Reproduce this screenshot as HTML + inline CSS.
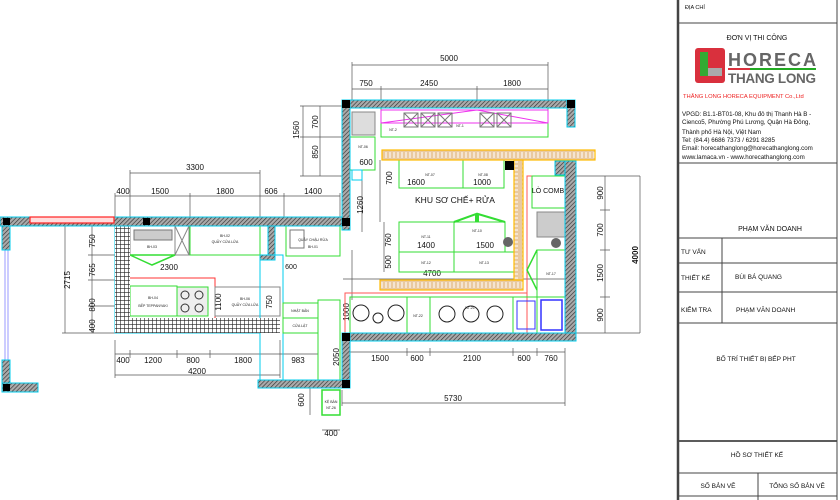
<!DOCTYPE html>
<html><head><meta charset="utf-8"><style>
body{margin:0;background:#fff}
svg{display:block;font-family:"Liberation Sans",sans-serif}
</style></head><body>
<svg width="840" height="500" viewBox="0 0 840 500" xmlns="http://www.w3.org/2000/svg">
<defs>
<pattern id="h" width="3" height="3" patternUnits="userSpaceOnUse" patternTransform="rotate(45)">
<rect width="3" height="3" fill="#aaa"/><line x1="0" y1="0" x2="0" y2="3" stroke="#333" stroke-width="1.3"/></pattern>
<pattern id="g" width="4" height="4" patternUnits="userSpaceOnUse">
<rect width="4" height="4" fill="#fff"/><path d="M0 0H4M0 0V4" stroke="#222" stroke-width="1.2"/></pattern>
<pattern id="sh" width="4" height="10" patternUnits="userSpaceOnUse">
<rect width="4" height="10" fill="#e9c9a0"/><line x1="2" y1="2" x2="2" y2="8" stroke="#fff" stroke-width="1"/></pattern>
<pattern id="shv" width="10" height="4" patternUnits="userSpaceOnUse">
<rect width="10" height="4" fill="#e9c9a0"/><line x1="2" y1="2" x2="8" y2="2" stroke="#fff" stroke-width="1"/></pattern>
</defs>
<g fill="none" stroke="#555" stroke-width="0.7">
<path d="M352 65H548M352 62V100M548 62V100M352 89H548M381 86V100M477 86V100"/>
<path d="M130 173H260M130 170V217M260 170V217M115 196H340M115 193V217M190 193V217M284 193V217M340 193V217"/>
<path d="M300 106H342M300 137H342M300 176H342M303 106V176M320 106V176"/>
<path d="M65 226V333M92 226V333M62 226H115M88 255H115M88 280H115M88 306H115M62 333H115"/>
<path d="M115 354H318M115 340V378M130 350V358M177 350V358M210 350V358M280 340V378M318 350V358M115 375H280"/>
<path d="M350 352H565M407 348V356M430 348V356M513 348V356M537 348V356M565 348V406M342 403H565M342 390V406"/>
<path d="M576 176H640M576 333H640M605 176V333M640 176V333M600 210H610M600 250H610M600 297H610"/>
<path d="M343 279H575M380 160V222M384 222V272M310 388V415M322 415H340M322 430H340"/>
<path d="M352 250V300M362 180V232"/>
</g>
<g font-size="8" fill="#111" text-anchor="middle">
<text x="449" y="61">5000</text><text x="366" y="86">750</text><text x="429" y="86">2450</text><text x="512" y="86">1800</text>
<text x="195" y="170">3300</text><text x="123" y="194">400</text><text x="160" y="194">1500</text><text x="225" y="194">1800</text><text x="271" y="194">606</text><text x="313" y="194">1400</text>
<text x="123" y="363">400</text><text x="153" y="363">1200</text><text x="193" y="363">800</text><text x="243" y="363">1800</text><text x="298" y="363">983</text><text x="197" y="374">4200</text>
<text x="380" y="361">1500</text><text x="417" y="361">600</text><text x="472" y="361">2100</text><text x="524" y="361">600</text><text x="551" y="361">760</text><text x="453" y="401">5730</text>
<text x="416" y="185">1600</text><text x="482" y="185">1000</text><text x="426" y="248">1400</text><text x="485" y="248">1500</text><text x="432" y="276">4700</text>
<text x="169" y="270">2300</text><text x="366" y="165">600</text><text x="291" y="269" font-size="7">600</text><text x="331" y="436">400</text>
<text x="455" y="203" font-size="8.5">KHU SƠ CHẾ+ RỬA</text>
<text x="548" y="193" font-size="7">LÒ COMB</text>
</g>
<g font-size="8" fill="#111" text-anchor="middle">
<text transform="translate(299,130) rotate(-90)">1560</text><text transform="translate(318,122) rotate(-90)">700</text><text transform="translate(318,152) rotate(-90)">850</text>
<text transform="translate(363,205) rotate(-90)">1260</text><text transform="translate(392,178) rotate(-90)">700</text><text transform="translate(391,240) rotate(-90)">760</text><text transform="translate(391,262) rotate(-90)">500</text>
<text transform="translate(349,312) rotate(-90)">1000</text><text transform="translate(339,357) rotate(-90)">2050</text><text transform="translate(304,400) rotate(-90)">600</text>
<text transform="translate(70,280) rotate(-90)">2715</text><text transform="translate(95,241) rotate(-90)">750</text><text transform="translate(95,270) rotate(-90)">765</text><text transform="translate(95,305) rotate(-90)">800</text><text transform="translate(95,326) rotate(-90)">400</text>
<text transform="translate(221,302) rotate(-90)">1100</text><text transform="translate(272,302) rotate(-90)">750</text>
<text transform="translate(603,193) rotate(-90)">900</text><text transform="translate(603,230) rotate(-90)">700</text><text transform="translate(603,273) rotate(-90)">1500</text><text transform="translate(603,315) rotate(-90)">900</text>
<text transform="translate(638,255) rotate(-90)" font-weight="bold">4000</text>
</g>
<g fill="none" stroke-width="1">
<rect x="381" y="108" width="167" height="29" stroke="#3d3"/>
<path d="M381 110H548V123H381Z M381 123L477 110L548 123" stroke="#e3e"/>
<rect x="352" y="112" width="23" height="23" stroke="#888" fill="#ddd"/>
<g stroke="#777"><rect x="404" y="113" width="14" height="14"/><rect x="421" y="113" width="14" height="14"/><rect x="438" y="113" width="14" height="14"/><rect x="480" y="113" width="14" height="14"/><rect x="497" y="113" width="14" height="14"/>
<path d="M404 113L418 127M418 113L404 127M421 113L435 127M435 113L421 127M438 113L452 127M452 113L438 127M480 113L494 127M494 113L480 127M497 113L511 127M511 113L497 127"/></g>
<rect x="350" y="137" width="25" height="33" stroke="#3d3"/>
<rect x="352" y="170" width="10" height="10" stroke="#0ce"/>
<rect x="399" y="160" width="64" height="28" stroke="#3d3"/><rect x="463" y="160" width="41" height="28" stroke="#3d3"/>
<rect x="399" y="222" width="55" height="30" stroke="#3d3"/><rect x="454" y="222" width="51" height="30" stroke="#3d3"/>
<rect x="399" y="252" width="55" height="20" stroke="#3d3"/><rect x="454" y="252" width="61" height="20" stroke="#3d3"/>
<path d="M454 222L476 214V222M478 222V214L505 222" stroke="#3d3" stroke-width="2"/>
<path d="M527 333V176H565" stroke="#f55"/>
<rect x="532" y="176" width="33" height="32" stroke="#3d3"/>
<rect x="537" y="212" width="28" height="25" stroke="#888" fill="#ccc"/>
<rect x="537" y="250" width="28" height="47" stroke="#3d3"/><path d="M537 250L527 270L537 290" stroke="#3d3" stroke-width="1.5"/>
<rect x="350" y="297" width="57" height="36" stroke="#3d3"/><rect x="407" y="297" width="23" height="36" stroke="#3d3"/>
<rect x="430" y="297" width="83" height="36" stroke="#3d3"/><rect x="513" y="297" width="24" height="36" stroke="#3d3"/>
<rect x="517" y="301" width="18" height="28" stroke="#33f"/><rect x="541" y="300" width="21" height="30" stroke="#33f" stroke-width="1.5"/>
<path d="M345 333V293H527" stroke="#f55"/>
<g stroke="#222"><circle cx="361" cy="313" r="8"/><circle cx="396" cy="313" r="8"/><circle cx="378" cy="318" r="5"/><circle cx="447" cy="314" r="8"/><circle cx="471" cy="314" r="8"/><circle cx="495" cy="314" r="8"/></g>
<circle cx="508" cy="242" r="5" fill="#666" stroke="none"/><circle cx="556" cy="243" r="5" fill="#666" stroke="none"/>
<rect x="115" y="226" width="145" height="107" stroke="#0ce"/>
<rect x="130" y="226" width="45" height="29" stroke="#888"/><rect x="134" y="230" width="38" height="10" fill="#ccc" stroke="#777"/>
<rect x="175" y="226" width="14" height="29" stroke="#888"/><path d="M175 226L189 255M189 226L175 255" stroke="#888"/>
<rect x="190" y="226" width="70" height="29" stroke="#3d3"/>
<path d="M130 255H175L152 265Z" stroke="#3d3" stroke-width="1.5"/>
<rect x="123" y="278" width="92" height="44" stroke="#f33"/>
<rect x="130" y="286" width="47" height="30" stroke="#3d3"/><rect x="177" y="287" width="31" height="29" stroke="#3d3" fill="#eee"/>
<g stroke="#333"><circle cx="185" cy="295" r="4"/><circle cx="199" cy="295" r="4"/><circle cx="185" cy="308" r="4"/><circle cx="199" cy="308" r="4"/></g>
<rect x="215" y="287" width="65" height="29" stroke="#888"/>
<rect x="260" y="255" width="23" height="125" stroke="#0ce"/>
<rect x="286" y="226" width="54" height="30" stroke="#3d3"/><rect x="290" y="230" width="14" height="18" stroke="#777"/>
<rect x="283" y="303" width="35" height="15" stroke="#3d3"/><rect x="283" y="318" width="35" height="15" stroke="#3d3"/>
<rect x="318" y="300" width="22" height="80" stroke="#3d3"/>
<rect x="322" y="390" width="18" height="25" stroke="#3d3" stroke-width="1.5"/>
<path d="M30 226H114" stroke="#ee4"/><path d="M5 250V360M8 250V360" stroke="#99f"/>
</g>
<rect x="115" y="226" width="15" height="107" fill="url(#g)"/><rect x="115" y="318" width="165" height="15" fill="url(#g)"/>
<g stroke="#fb0" stroke-width="1.2">
<rect x="382" y="150" width="213" height="10" fill="url(#sh)"/>
<rect x="380" y="280" width="143" height="10" fill="url(#sh)"/>
<rect x="514" y="160" width="9" height="120" fill="url(#shv)"/>
</g>
<g fill="url(#h)" stroke="#0ce" stroke-width="1">
<rect x="342" y="100" width="233" height="8"/><rect x="567" y="100" width="8" height="27"/>
<rect x="342" y="100" width="8" height="130"/><rect x="330" y="218" width="12" height="8"/>
<rect x="565" y="161" width="11" height="180"/><rect x="555" y="161" width="10" height="14"/>
<rect x="342" y="333" width="234" height="8"/><rect x="342" y="333" width="8" height="55"/>
<rect x="258" y="380" width="92" height="8"/>
<rect x="0" y="217" width="342" height="9"/><rect x="2" y="226" width="8" height="24"/><rect x="2" y="360" width="8" height="24"/><rect x="2" y="383" width="36" height="9"/>
<rect x="268" y="226" width="7" height="30"/><rect x="260" y="255" width="15" height="5"/>
</g>
<rect x="30" y="217" width="84" height="6" fill="#fdd" stroke="#f22" stroke-width="1.2"/>
<g fill="#000"><rect x="342" y="100" width="8" height="8"/><rect x="567" y="100" width="8" height="8"/><rect x="342" y="218" width="8" height="8"/><rect x="505" y="161" width="9" height="9"/>
<rect x="342" y="333" width="8" height="8"/><rect x="342" y="380" width="8" height="8"/><rect x="3" y="218" width="7" height="7"/><rect x="143" y="218" width="7" height="7"/><rect x="3" y="384" width="7" height="7"/></g>
<g font-size="3.5" fill="#222" text-anchor="middle">
<text x="393" y="131">NT-2</text><text x="460" y="127">NT-1</text><text x="363" y="148">NT-06</text><text x="430" y="176">NT-07</text><text x="483" y="176">NT-08</text>
<text x="426" y="238">NT-11</text><text x="477" y="232">NT-10</text><text x="426" y="264">NT-12</text><text x="484" y="264">NT-13</text><text x="551" y="275">NT-17</text>
<text x="418" y="317">NT-22</text><text x="470" y="309">NT-21</text><text x="152" y="248">BH-03</text><text x="225" y="237">BH-02</text><text x="225" y="243">QUẦY CỬA LỬA</text>
<text x="153" y="299">BH-04</text><text x="153" y="307">BẾP TEPPANYAKI</text><text x="245" y="300">BH-06</text><text x="245" y="306">QUẦY CỬA LỬA</text>
<text x="313" y="241">QUẦY CHẬU RỬA</text><text x="313" y="248">BH-01</text><text x="300" y="312">NHẬT BẢN</text><text x="300" y="327">CỬA LẬT</text><text x="331" y="403">KỆ BÀN</text><text x="331" y="409">NT-26</text>
</g>
<g fill="none" stroke="#444"><path d="M678 0V500" stroke-width="2.5"/><path d="M837 0V500" stroke-width="1"/>
<path d="M678 23H837M678 163H837M678 238H837M678 263H837M678 292H837M678 323H837M678 473H837M678 496H837M722 238V323M758 473V500" stroke-width="1"/>
<path d="M678 441H837" stroke-width="1.8"/></g>
<g font-size="7" fill="#111">
<text x="685" y="9" font-size="5.5">ĐỊA CHỈ</text>
<text x="757" y="40" text-anchor="middle">ĐƠN VỊ THI CÔNG</text>
<rect x="695" y="48" width="30" height="35" rx="3" fill="#d9303d"/><rect x="700" y="52" width="8" height="24" fill="#3a3"/><rect x="708" y="68" width="14" height="8" fill="#aaa"/>
<text x="728" y="66" font-size="18" font-weight="bold" fill="#666" textLength="88">HORECA</text><rect x="728" y="68" width="22" height="2" fill="#d9303d"/><rect x="750" y="68" width="66" height="2" fill="#2a2"/>
<text x="728" y="83" font-size="13.5" font-weight="bold" fill="#666" textLength="88">THANG LONG</text>
<text x="683" y="98" font-size="5.8" fill="#e22">THĂNG LONG HORECA EQUIPMENT Co.,Ltd</text>
<g font-size="6.2"><text x="682" y="116">VPGD: B1.1-BT01-08, Khu đô thị Thanh Hà B -</text><text x="682" y="124">Cienco5, Phường Phú Lương, Quận Hà Đông,</text><text x="682" y="134">Thành phố Hà Nội, Việt Nam</text><text x="682" y="142">Tel: (84.4) 6686 7373 / 6291 8285</text><text x="682" y="150">Email: horecathanglong@horecathanglong.com</text><text x="682" y="159">www.lamaca.vn - www.horecathanglong.com</text></g>
<text x="770" y="231" text-anchor="middle">PHẠM VĂN DOANH</text>
<text x="681" y="254" font-size="6.5">TƯ VẤN</text><text x="681" y="280" font-size="6.5">THIẾT KẾ</text><text x="735" y="279" font-size="6.5">BÙI BÁ QUANG</text>
<text x="681" y="312" font-size="6.5">KIỂM TRA</text><text x="736" y="312" font-size="6.5">PHẠM VĂN DOANH</text>
<text x="756" y="361" text-anchor="middle" font-size="6.5">BỐ TRÍ THIẾT BỊ BẾP PHT</text>
<text x="757" y="457" text-anchor="middle" font-size="6.5">HỒ SƠ THIẾT KẾ</text>
<text x="718" y="488" text-anchor="middle" font-size="6.5">SỐ BẢN VẼ</text><text x="797" y="488" text-anchor="middle" font-size="6.5">TỔNG SỐ BẢN VẼ</text>
</g>
</svg>
</body></html>
